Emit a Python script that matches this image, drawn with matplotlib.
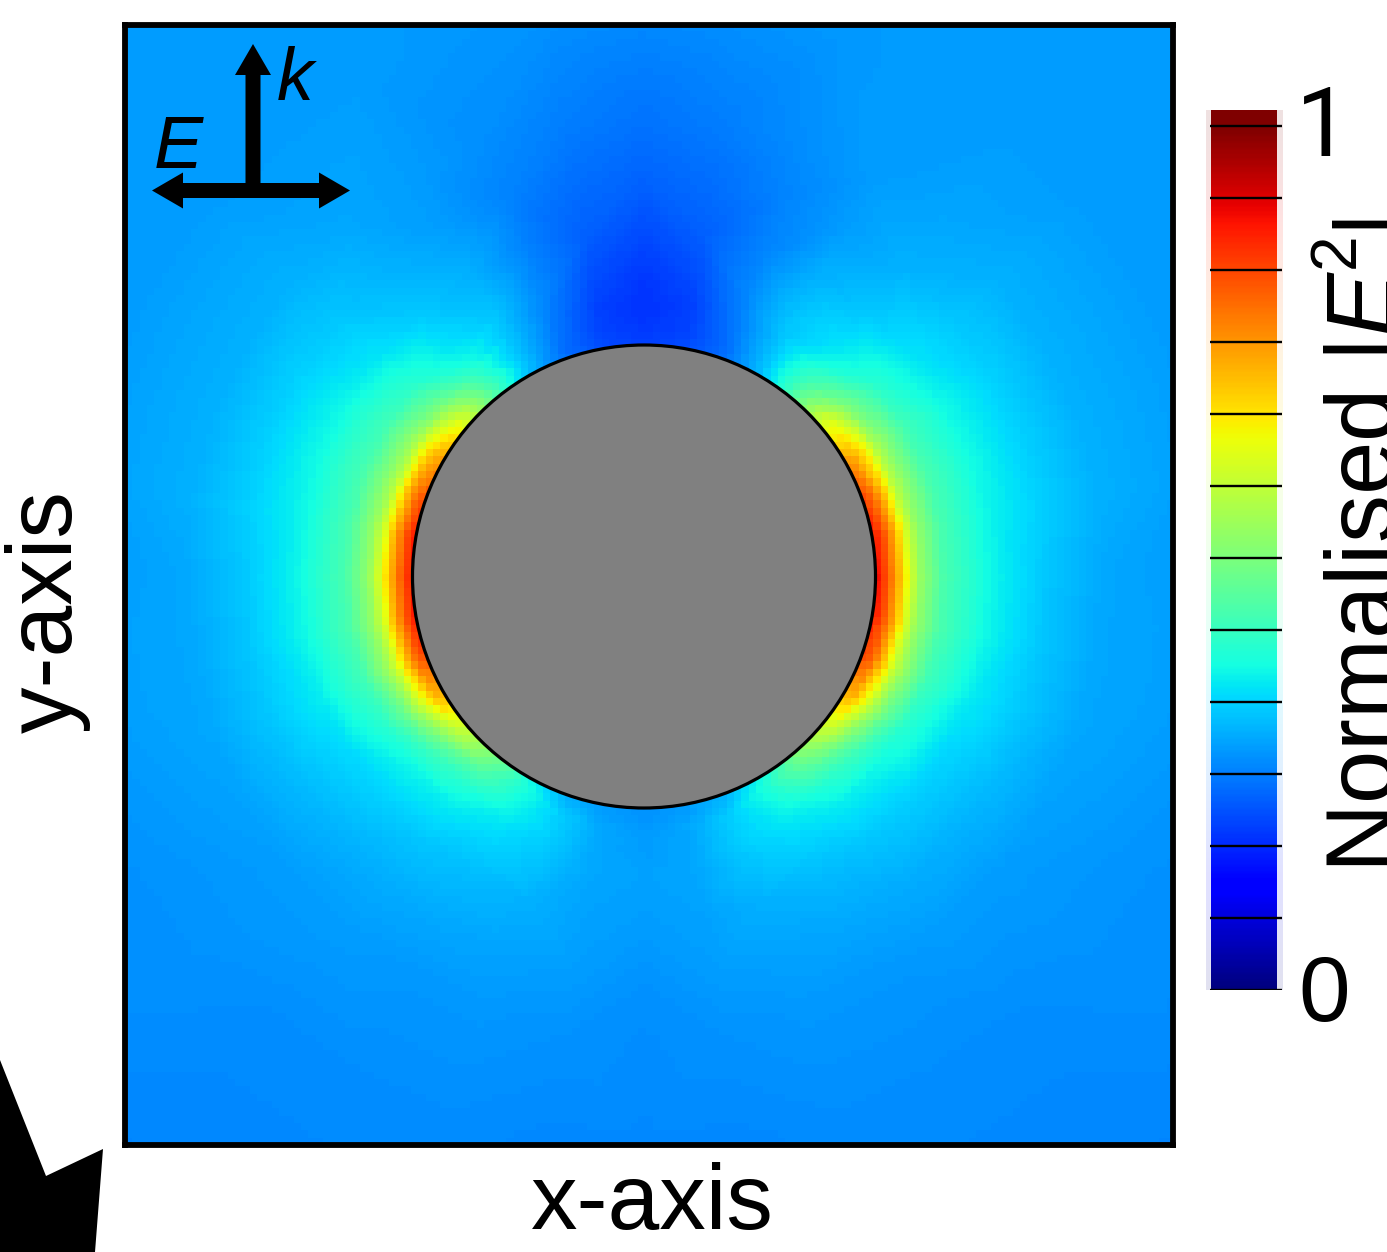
import numpy as np
import matplotlib
matplotlib.use('Agg')
import matplotlib.pyplot as plt
import matplotlib.tri as mtri
from matplotlib.patches import Circle, FancyArrow, Polygon

plt.rcParams['font.family'] = ['Liberation Sans', 'DejaVu Sans']
plt.rcParams['mathtext.fontset'] = 'custom'
plt.rcParams['mathtext.rm'] = 'Liberation Sans'
plt.rcParams['mathtext.it'] = 'Liberation Sans:italic'

W, H = 1387, 1252

# field: r in particle radii, angle from the top of the particle
radii = [1.0, 1.05, 1.1, 1.15, 1.2, 1.3, 1.5, 1.75, 2.0, 2.5, 3.5]
angles = [0, 10, 20, 30, 40, 50, 60, 70, 80, 90, 100, 110, 120, 130, 140, 150, 160, 170, 180]
field = [
    [.19, .185, .18, .175, .175, .18, .20, .225, .24, .265, .28],
    [.20, .195, .19, .19, .19, .20, .22, .235, .25, .27, .28],
    [.24, .235, .24, .245, .25, .26, .255, .255, .265, .275, .28],
    [.31, .32, .32, .32, .32, .32, .30, .28, .28, .28, .28],
    [.46, .45, .43, .41, .38, .35, .32, .30, .29, .28, .28],
    [.62, .62, .56, .50, .46, .40, .35, .32, .30, .28, .28],
    [.75, .72, .66, .56, .51, .43, .37, .33, .30, .28, .27],
    [.84, .79, .70, .58, .52, .44, .375, .33, .30, .28, .27],
    [.90, .83, .73, .61, .53, .44, .37, .33, .30, .28, .27],
    [.91, .83, .73, .62, .53, .44, .37, .32, .29, .275, .26],
    [.90, .83, .73, .61, .53, .44, .37, .32, .29, .28, .265],
    [.84, .81, .71, .60, .53, .43, .36, .32, .29, .275, .265],
    [.72, .72, .63, .55, .48, .40, .34, .31, .285, .27, .26],
    [.60, .58, .52, .46, .42, .37, .33, .30, .28, .27, .26],
    [.50, .48, .45, .42, .39, .36, .32, .295, .28, .265, .255],
    [.37, .39, .38, .37, .36, .34, .31, .29, .275, .265, .255],
    [.30, .31, .33, .33, .33, .32, .30, .285, .275, .265, .255],
    [.28, .28, .29, .29, .29, .29, .285, .28, .27, .26, .255],
    [.27, .27, .275, .28, .28, .285, .28, .27, .265, .26, .255],
]
cbar_ticks = np.arange(13) / 12

# pixel layout of the picture
cx, cy, R = 644, 576.5, 231.5
left, right, top, bottom = 124.5, 1173, 24.5, 1145
cell = 7.3

fig = plt.figure(figsize=(W / 100, H / 100), dpi=100)

ax = fig.add_axes([left / W, 1 - bottom / H, (right - left) / W, (bottom - top) / H])
xlim = ((left - cx) / R, (right - cx) / R)
ylim = ((cy - bottom) / R, (cy - top) / R)

# left half from the table, right half is its mirror
rr, aa = np.meshgrid(radii, np.deg2rad(angles))
vals = np.array(field)
inner = (aa > 0) & (aa < np.pi)
px = np.r_[-rr.ravel() * np.sin(aa.ravel()), rr[inner] * np.sin(aa[inner])]
py = np.r_[rr.ravel() * np.cos(aa.ravel()), rr[inner] * np.cos(aa[inner])]
pv = np.r_[vals.ravel(), vals[inner]]
interp = mtri.LinearTriInterpolator(mtri.Triangulation(px, py), pv)

nx = int((right - left) / cell)
ny = int((bottom - top) / cell)
gx = np.linspace(xlim[0], xlim[1], nx)
gy = np.linspace(ylim[0], ylim[1], ny)
mx, my = np.meshgrid(gx, gy)
img = np.ma.filled(interp(mx, my), 0.27)

ax.imshow(img, cmap='jet', vmin=0, vmax=1, origin='lower', aspect='auto',
          extent=(xlim[0], xlim[1], ylim[0], ylim[1]), interpolation='nearest')
ax.add_patch(Circle((0, 0), 1, facecolor='#808080', edgecolor='black', linewidth=2.3))
ax.set_xlim(xlim)
ax.set_ylim(ylim)
ax.set_xticks([])
ax.set_yticks([])
for s in ax.spines.values():
    s.set_linewidth(4.2)

# colour bar
cax = fig.add_axes([1206 / W, 1 - 990 / H, 77 / W, 880 / H])
top_val = (990 - 110) / (990 - 126)
grad = np.clip(np.linspace(0, top_val, 400), 0, 1).reshape(-1, 1)
cax.imshow(grad, cmap='jet', vmin=0, vmax=1, origin='lower', aspect='auto',
           extent=(1206, 1283, 0, top_val), alpha=0.12)
cax.imshow(grad, cmap='jet', vmin=0, vmax=1, origin='lower', aspect='auto',
           extent=(1211, 1277, 0, top_val))
cax.hlines(cbar_ticks, 1210, 1282, color='black', linewidth=1.7)
cax.set_xlim(1206, 1283)
cax.set_ylim(0, top_val)
cax.axis('off')

# everything else goes on an overlay in picture pixels
over = fig.add_axes([0, 0, 1, 1], zorder=5)
over.set_xlim(0, W)
over.set_ylim(H, 0)
over.axis('off')

over.add_patch(Polygon([(0, 1060), (46, 1176), (103, 1149), (95, 1252), (0, 1252)],
                       closed=True, facecolor='black', edgecolor='none'))

for x, y, dx, dy in [(251, 190.5, 99, 0), (251, 190.5, -99, 0), (253, 197, 0, -153)]:
    over.add_patch(FancyArrow(x, y, dx, dy, width=15, head_width=36, head_length=31,
                              length_includes_head=True, facecolor='black', edgecolor='none'))

over.text(154, 168, 'E', fontsize=53, style='italic', va='baseline', ha='left')
over.text(277, 100, 'k', fontsize=53, style='italic', va='baseline', ha='left')

over.text(531, 1229, 'x-axis', fontsize=67, va='baseline', ha='left')
over.text(72, 733, 'y-axis', fontsize=67, rotation=90, rotation_mode='anchor',
          va='baseline', ha='left')
over.text(1296, 156, '1', fontsize=69, family=['Roboto', 'DejaVu Sans'], va='baseline', ha='left')
over.text(1298, 1021, '0', fontsize=67, va='baseline', ha='left')

# label in three pieces, the superscript is tighter than mathtext sets it
over.text(1394, 873, r'Normalised |$\mathit{E}$', fontsize=69, rotation=90,
          rotation_mode='anchor', va='baseline', ha='left')
over.text(1354, 268, '2', fontsize=46, rotation=90, rotation_mode='anchor',
          va='baseline', ha='left')
over.text(1394, 228, '|', fontsize=69, rotation=90, rotation_mode='anchor',
          va='baseline', ha='left')

fig.savefig('out.png', dpi=100)
